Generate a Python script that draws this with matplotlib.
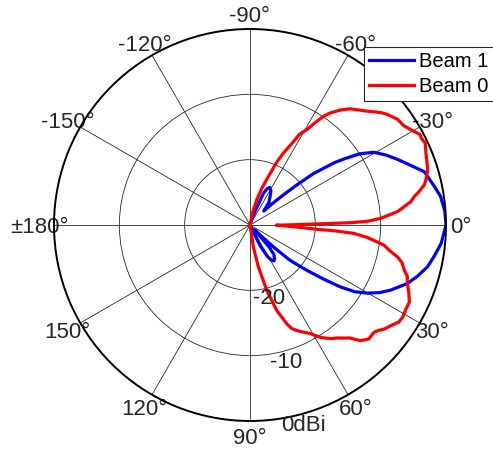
import matplotlib
matplotlib.use("Agg")
import matplotlib.pyplot as plt
import numpy as np

plt.rcParams['font.family'] = ['Liberation Sans', 'DejaVu Sans']

# measured patterns, angle in degrees, gain in dBi
beam1_deg = [-180, -74, -71.6, -67, -64.5, -62.3, -59, -56, -50, -45.5,
             -44, -42, -40.5, -39, -36.5, -35, -33, -30.4, -27, -24,
             -20, -17, -12, -8.5, -4, 0, 5.5, 9.6, 13.3, 17,
             20.4, 24.9, 27.5, 30.1, 32.5, 34.4, 36.3, 38.5, 40.4, 41.5,
             43, 45, 47, 49, 51, 54, 56.5, 59, 61, 64,
             67, 180]
beam1_db = [-30, -30, -28.4, -24.7, -23.8, -23.5, -23.8, -24.4, -25.5, -27,
            -25.5, -23, -20.5, -17.5, -14, -12.3, -10, -8.0, -6.5, -5.3,
            -3.6, -2.1, -1.2, -0.5, -0.1, 0, -0.6, -1.4, -2.1, -3.2,
            -4.3, -6.3, -7.6, -9.2, -11, -13.2, -16, -18.8, -20.9, -22,
            -25, -28, -29, -25.5, -24.2, -23.6, -23.4, -23.8, -24.5, -26.5,
            -30, -30]

beam0_deg = [-180, -84, -78, -75, -72, -69.5, -67, -65, -63, -61.4,
             -59.2, -57.5, -55.9, -54.4, -51.8, -49.2, -47, -44.2, -40.7, -38.8,
             -35.6, -32.9, -30.7, -28, -27, -25, -22.3, -20, -17.3, -14.4,
             -13, -11.2, -9.8, -8.3, -5.2, -2.9, -1.8, -1.3, -0.9, -0.3,
             0.5, 2.2, 3.7, 3.9, 4.6, 6, 8.5, 10.5, 12.2, 14,
             16.3, 18, 20.4, 23, 25.8, 28, 31.1, 33.1, 35.5, 37.8,
             39.5, 40.9, 43.8, 46.3, 48.5, 50.3, 52.5, 54.8, 57.9, 61,
             64, 66, 68, 69.5, 72.6, 75.6, 78.7, 81.3, 84, 180]
beam0_db = [-30, -30, -28, -26, -24, -22.3, -19.6, -17.8, -16.2, -14.2,
            -13, -11.4, -9.9, -8.9, -7.6, -6.5, -5.9, -5.0, -3.6, -3.0,
            -2.2, -2.0, -1.4, -0.5, -0.6, -0.4, -0.9, -1.2, -1.5, -2.2,
            -2.6, -3.6, -4.5, -5.1, -7.3, -10, -12, -14.6, -19.7, -23.5,
            -26, -23.3, -19.7, -17.2, -14.1, -12, -9.3, -8.2, -6.9, -6.0,
            -5.4, -4.7, -4.3, -3.6, -2.9, -2.9, -2.7, -2.8, -3.5, -4.0,
            -4.6, -4.9, -4.8, -5.5, -6.9, -7.5, -8.2, -8.7, -9.7, -11,
            -11.8, -12.3, -12.9, -13.8, -16.3, -19.7, -23.5, -26.6, -30, -30]

theta_ticks = [0, 30, 60, 90, 120, 150, 180, 210, 240, 270, 300, 330]
theta_labels = ['0°', '30°', '60°', '90°', '120°', '150°', '±180°',
                '-150°', '-120°', '-90°', '-60°', '-30°']
r_ticks = [-20, -10, 0]
r_labels = ['-20', '-10', '0dBi']
r_min, r_max = -30, 0

fig = plt.figure(figsize=(4.93, 4.51), dpi=100)
ax = fig.add_axes([54 / 493, 30 / 451, 392 / 493, 392 / 451], projection='polar')
ax.set_theta_zero_location('E')
ax.set_theta_direction(-1)

ax.plot(np.deg2rad(beam1_deg), np.clip(beam1_db, r_min, r_max),
        color='#0000ff', lw=2.3, label='Beam 1')
ax.plot(np.deg2rad(beam0_deg), np.clip(beam0_db, r_min, r_max),
        color='#ff0000', lw=2.3, label='Beam 0')

ax.set_ylim(r_min, r_max)
ax.set_thetagrids(theta_ticks, theta_labels)
ax.set_rgrids(r_ticks, [''] * len(r_ticks))
ax.tick_params(axis='x', length=0, pad=3.5, labelsize=16, labelcolor='0.15')
ax.tick_params(axis='y', length=0)
for t in ax.get_xticklabels():
    t.set_verticalalignment('center_baseline')
ax.grid(True, color='0.15', lw=0.6)
ax.spines['polar'].set_color('black')
ax.spines['polar'].set_linewidth(1.4)

for r, lab in zip(r_ticks, r_labels):
    ax.annotate(lab, xy=(np.deg2rad(75), r), xytext=(1.6, -7.8),
                textcoords='offset points', ha='center', va='center',
                fontsize=16, color='0.15', annotation_clip=False)

leg = fig.legend(loc='upper left', bbox_to_anchor=(364 / 493, 1 - 47 / 451),
                 fontsize=14.5, handlelength=2.25, handletextpad=0.25,
                 borderpad=0.25, labelspacing=0.3, borderaxespad=0,
                 fancybox=False, framealpha=1)
leg.get_frame().set_edgecolor('0.15')
leg.get_frame().set_linewidth(0.8)
for line in leg.get_lines():
    line.set_linewidth(2.3)

fig.savefig('out.png', dpi=100)
